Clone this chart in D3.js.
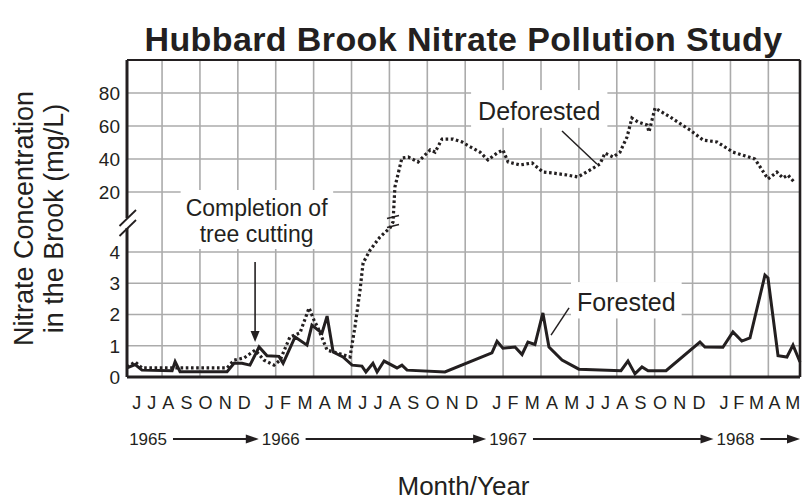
<!DOCTYPE html>
<html>
<head>
<meta charset="utf-8">
<script src="https://cdn.jsdelivr.net/npm/d3@7"></script>
<style>
  body { margin: 0; background: #fff; }
  svg { font-family: "Liberation Sans", Arial, Helvetica, sans-serif; }
</style>
</head>
<body>
<div id="wrapper"></div>
<script>
// month index: 0 = June 1965 ... 35 = May 1968
const monthLabels = ["J","J","A","S","O","N","D",
  "J","F","M","A","M","J","J","A","S","O","N","D",
  "J","F","M","A","M","J","J","A","S","O","N","D",
  "J","F","M","A","M"];
const yearLabels = ["1965", "1966", "1967", "1968"];
const yearStarts = [0, 7, 19, 31];
const lowerTicks = [0, 1, 2, 3, 4];
const upperTicks = [20, 40, 60, 80];
const gridMonths = d3.range(2, 35, 2);

const forestedMonth = [0.15,0.58,0.94,2.53,2.69,2.95,5.43,5.80,6.22,6.64,7.12,7.54,8.17,8.39,9.02,9.65,9.91,
  10.44,10.71,11.03,11.55,12.03,12.55,12.76,13.13,13.35,13.72,14.40,14.66,14.93,16.93,19.41,19.68,19.99,
  20.63,21.00,21.31,21.68,22.10,22.42,23.11,24.00,26.22,26.59,26.96,27.33,27.65,28.60,30.39,30.65,
  31.60,32.13,32.60,33.03,33.82,33.98,34.51,34.98,35.30,35.67];
const forestedValue = [0.29,0.40,0.22,0.20,0.49,0.17,0.17,0.44,0.44,0.38,0.96,0.68,0.66,0.44,1.28,1.02,1.66,
  1.40,1.95,0.80,0.64,0.38,0.35,0.16,0.44,0.16,0.51,0.29,0.38,0.22,0.16,0.77,1.14,0.92,
  0.96,0.72,1.12,1.04,2.05,0.96,0.54,0.25,0.20,0.51,0.10,0.32,0.20,0.20,1.12,0.96,
  0.95,1.44,1.15,1.25,3.26,3.17,0.68,0.64,1.02,0.48];

const deforestedMonth = [0.15,0.58,0.94,5.43,5.80,6.33,6.91,7.38,7.91,8.23,8.75,9.28,9.76,10.02,10.23,
  10.71,11.23,11.92,12.18,12.45,12.61,12.98,13.50,14.03,14.19,14.29,14.66,14.99,15.51,16.15,
  16.41,16.78,17.36,17.84,18.09,18.78,19.20,19.68,19.99,20.26,20.89,21.53,22.10,22.63,23.37,
  23.95,24.58,25.11,25.38,25.80,26.17,26.54,26.80,27.12,27.60,27.70,28.02,28.81,29.86,30.55,
  31.29,32.13,33.29,33.98,34.45,34.77,35.03,35.40];
const deforestedValue = [0.32,0.48,0.29,0.29,0.54,0.61,0.86,0.54,0.38,0.54,1.28,1.41,2.21,1.82,1.57,
  0.86,0.77,0.64,1.60,2.78,3.65,4.06,4.48,4.77,6.97,23,40.6,41.2,38.2,45.5,
  44.2,52.1,52.1,50.3,48.5,44.2,39.4,43.6,45.5,38.2,36.4,37.6,32.1,31.5,30.3,
  29.1,33.3,37.0,43.6,41.2,44.2,53.3,64.8,62.4,60.6,56.4,70.9,65.5,57.6,51.5,
  50.3,44.2,40.0,27.9,32.1,28.5,30.3,25.5];

const ink = "#231f20";
const gridColor = "#ababab";

let dimensions = {
  width: 802,
  height: 504,
  margin: { top: 60, right: 2, bottom: 127, left: 127 },
};
dimensions.boundedWidth = dimensions.width - dimensions.margin.left - dimensions.margin.right;
dimensions.boundedHeight = dimensions.height - dimensions.margin.top - dimensions.margin.bottom;

const wrapper = d3.select("#wrapper").append("svg")
  .attr("width", dimensions.width)
  .attr("height", dimensions.height);

const bounds = wrapper.append("g")
  .attr("transform", `translate(${dimensions.margin.left},${dimensions.margin.top})`);

const xScale = d3.scaleLinear().domain([0.15, 35.67]).range([0, dimensions.boundedWidth]);
// broken axis: 0-4.8 lower panel, 20-100 upper panel
const yScale = d3.scaleLinear()
  .domain([0, 4.8, 20, 100])
  .range([dimensions.boundedHeight, dimensions.boundedHeight - 150, 132, 0]);

// grid
bounds.append("g").selectAll("line").data(gridMonths).join("line")
  .attr("x1", d => xScale(d)).attr("x2", d => xScale(d))
  .attr("y1", 0).attr("y2", dimensions.boundedHeight)
  .attr("stroke", gridColor).attr("stroke-width", 1.6);
bounds.append("g").selectAll("line").data(lowerTicks.slice(1).concat(upperTicks)).join("line")
  .attr("x1", 0).attr("x2", dimensions.boundedWidth)
  .attr("y1", d => yScale(d)).attr("y2", d => yScale(d))
  .attr("stroke", gridColor).attr("stroke-width", 1.6);

// tick labels
bounds.append("g").selectAll("text").data(lowerTicks.concat(upperTicks)).join("text")
  .attr("x", -7).attr("y", d => yScale(d))
  .attr("dy", "0.36em")
  .attr("text-anchor", "end")
  .attr("font-size", 19)
  .attr("fill", ink)
  .text(d => d);

// annotation boxes + text
function boxedText(g, lines, x, y, lineGap, anchor, pad, size) {
  const grp = g.append("g");
  const rect = grp.append("rect").attr("fill", "#fff");
  const t = grp.append("text")
    .attr("font-size", size)
    .attr("fill", ink)
    .attr("text-anchor", anchor);
  lines.forEach((s, i) => {
    t.append("tspan").attr("x", x).attr("y", y + i * lineGap).text(s);
  });
  const bb = t.node().getBBox();
  rect.attr("x", bb.x - pad).attr("y", bb.y - pad)
    .attr("width", bb.width + pad * 2).attr("height", bb.height + pad * 1.4);
  return grp;
}

boxedText(bounds, ["Completion of", "tree cutting"], xScale(6.99), yScale(4) - 36, 26, "middle", 5, 23);
boxedText(bounds, ["Deforested"], xScale(18.68), yScale(63.6), 0, "start", 7, 25);
boxedText(bounds, ["Forested"], xScale(23.9), yScale(2.11), 0, "start", 6, 25);

// leader lines
const leaders = [
  [[23.11, 57.0], [24.95, 37.0]],
  [[23.48, 2.21], [22.53, 1.34]],
];
bounds.append("g").selectAll("line").data(leaders).join("line")
  .attr("x1", d => xScale(d[0][0])).attr("y1", d => yScale(d[0][1]))
  .attr("x2", d => xScale(d[1][0])).attr("y2", d => yScale(d[1][1]))
  .attr("stroke", ink).attr("stroke-width", 1.5);

// arrow: completion of tree cutting
const arrowX = xScale(6.91);
const arrowTop = yScale(3.68);
const arrowTip = yScale(1.12);
bounds.append("line")
  .attr("x1", arrowX).attr("x2", arrowX)
  .attr("y1", arrowTop).attr("y2", arrowTip - 8)
  .attr("stroke", ink).attr("stroke-width", 1.6);
bounds.append("path")
  .attr("d", `M${arrowX - 4.5},${arrowTip - 11} L${arrowX + 4.5},${arrowTip - 11} L${arrowX},${arrowTip} Z`)
  .attr("fill", ink);

// data lines
const lineGenerator = d3.line()
  .x(d => xScale(d[0]))
  .y(d => yScale(d[1]));

const forested = d3.zip(forestedMonth, forestedValue);
const deforested = d3.zip(deforestedMonth, deforestedValue);

bounds.append("path")
  .datum(deforested)
  .attr("d", lineGenerator)
  .attr("fill", "none")
  .attr("stroke", ink)
  .attr("stroke-width", 3.2)
  .attr("stroke-dasharray", "2.6,2.6");

bounds.append("path")
  .datum(forested)
  .attr("d", lineGenerator)
  .attr("fill", "none")
  .attr("stroke", ink)
  .attr("stroke-width", 3)
  .attr("stroke-linejoin", "miter");

// break marks on the deforested line
const bx = xScale(14.19), by = yScale(6.97);
[-5, 4].forEach(o => {
  bounds.append("line")
    .attr("x1", bx - 6).attr("x2", bx + 6)
    .attr("y1", by + o + 1.5).attr("y2", by + o - 1.5)
    .attr("stroke", ink).attr("stroke-width", 1.6);
});

// frame
const bw = dimensions.boundedWidth, bh = dimensions.boundedHeight;
const breakY = yScale(4.8);
const frame = bounds.append("g").attr("stroke", ink).attr("fill", "none");
frame.append("line").attr("x1", 0).attr("x2", bw).attr("y1", 0).attr("y2", 0).attr("stroke-width", 2.2);
frame.append("line").attr("x1", bw).attr("x2", bw).attr("y1", 0).attr("y2", bh).attr("stroke-width", 2.6);
frame.append("line").attr("x1", 0).attr("x2", bw).attr("y1", bh).attr("y2", bh).attr("stroke-width", 3.2);
frame.append("line").attr("x1", 0).attr("x2", 0).attr("y1", 0).attr("y2", breakY - 9).attr("stroke-width", 3);
frame.append("line").attr("x1", 0).attr("x2", 0).attr("y1", breakY + 1).attr("y2", bh).attr("stroke-width", 3);
[breakY - 9, breakY + 1].forEach(y0 => {
  frame.append("line")
    .attr("x1", -7.5).attr("y1", y0 + 8)
    .attr("x2", 9).attr("y2", y0 - 8)
    .attr("stroke-width", 1.8);
});

// month labels, one run per year
const axisG = bounds.append("g").attr("fill", ink);
yearStarts.forEach((a, i) => {
  const b = i < yearStarts.length - 1 ? yearStarts[i + 1] : monthLabels.length;
  axisG.append("text")
    .attr("x", xScale(a) + 8)
    .attr("y", bh + 32)
    .attr("font-size", 18)
    .attr("textLength", xScale(b) - xScale(a) - 14)
    .attr("lengthAdjust", "spacing")
    .text(monthLabels.slice(a, b).join(""));
});

// year labels with arrows
const yearTexts = yearStarts.map((a, i) => axisG.append("text")
  .attr("x", xScale(a) + 5)
  .attr("y", bh + 68)
  .attr("font-size", 17)
  .text(yearLabels[i]));

yearTexts.forEach((t, i) => {
  const bb = t.node().getBBox();
  const x1 = bb.x + bb.width + 6;
  const x2 = i < yearTexts.length - 1 ? yearTexts[i + 1].node().getBBox().x - 3 : bw;
  const ay = bh + 62;
  axisG.append("line")
    .attr("x1", x1).attr("x2", x2 - 10)
    .attr("y1", ay).attr("y2", ay)
    .attr("stroke", ink).attr("stroke-width", 2);
  axisG.append("path")
    .attr("d", `M${x2 - 13},${ay - 4.5} L${x2},${ay} L${x2 - 13},${ay + 4.5} Z`);
});

// titles
wrapper.append("text")
  .attr("x", dimensions.margin.left + bw / 2)
  .attr("y", 51)
  .attr("text-anchor", "middle")
  .attr("font-size", 34)
  .attr("font-weight", "bold")
  .attr("letter-spacing", 0.4)
  .attr("fill", ink)
  .text("Hubbard Brook Nitrate Pollution Study");

wrapper.append("text")
  .attr("x", dimensions.margin.left + bw / 2)
  .attr("y", 495)
  .attr("text-anchor", "middle")
  .attr("font-size", 26)
  .attr("fill", ink)
  .text("Month/Year");

const yTitle = wrapper.append("g")
  .attr("transform", `translate(0,${dimensions.margin.top + bh / 2})`);
["Nitrate Concentration", "in the Brook (mg/L)"].forEach((s, i) => {
  yTitle.append("text")
    .attr("transform", `translate(${33 + i * 30},0) rotate(-90)`)
    .attr("text-anchor", "middle")
    .attr("font-size", 27)
    .attr("fill", ink)
    .text(s);
});
</script>
</body>
</html>
